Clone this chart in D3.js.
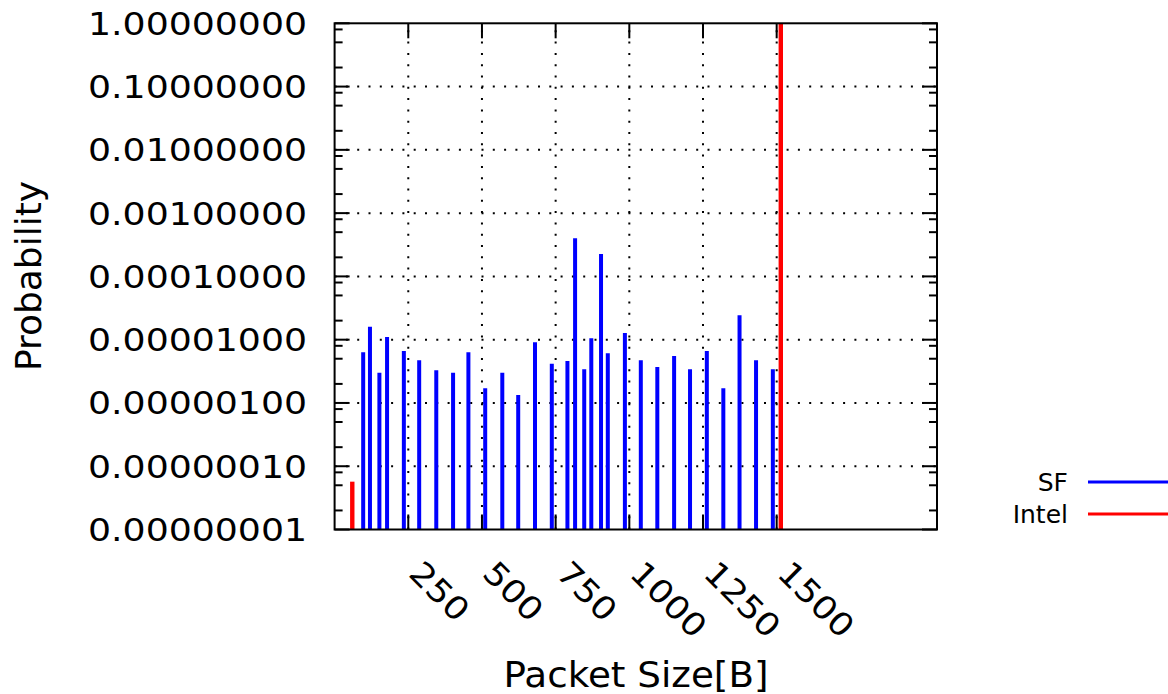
<!DOCTYPE html>
<html><head><meta charset="utf-8">
<script src="https://cdn.jsdelivr.net/npm/d3@7"></script>
<style>body{margin:0;background:#fff}svg{display:block}text{font-family:"DejaVu Sans",sans-serif;fill:#000}</style>
</head><body>
<svg id="c" width="1168" height="694"></svg>
<script>
// SF packet sizes (bytes) and probabilities
const sfSizes = [97,120,152,178,235,287,345,402,454,511,569,623,680,737,790,816,847,871,904,927,985,1039,1095,1152,1206,1263,1319,1374,1430,1487];
const sfProb  = [6.3e-6,1.6e-5,3.0e-6,1.1e-5,6.6e-6,4.75e-6,3.3e-6,3.0e-6,6.3e-6,1.7e-6,3.0e-6,1.34e-6,9.1e-6,4.15e-6,4.6e-6,4.0e-4,3.4e-6,1.05e-5,2.25e-4,6.1e-6,1.27e-5,4.75e-6,3.7e-6,5.5e-6,3.4e-6,6.6e-6,1.7e-6,2.44e-5,4.75e-6,3.4e-6];
// Intel packet sizes and probabilities
const intelSizes = [60,1514];
const intelProb  = [5.7e-8,0.9999999];
const xTicks = [250,500,750,1000,1250,1500];
const yTicks = [1,1e-1,1e-2,1e-3,1e-4,1e-5,1e-6,1e-7,1e-8];
const legendLabels = ["SF","Intel"];
const colors = ["#0000ff","#ff0000"];

const L=334.6, R=937, T=23.3, B=529.5;
const svg = d3.select("#c");
const x = d3.scaleLinear().domain([0,2044]).range([L,R]);
const y = d3.scaleLog().domain([1e-8,1]).range([B,T]);

// grid
const g = svg.append("g");
g.selectAll("line.gx").data(xTicks).join("line")
  .attr("x1",d=>x(d)).attr("x2",d=>x(d)).attr("y1",B).attr("y2",T)
  .attr("stroke","#000").attr("stroke-width",2).attr("stroke-dasharray","2,9.3");
g.selectAll("line.gy").data(yTicks.slice(1,-1)).join("line")
  .attr("x1",L).attr("x2",R).attr("y1",d=>y(d)).attr("y2",d=>y(d))
  .attr("stroke","#000").attr("stroke-width",2).attr("stroke-dasharray","2,9.3");

// impulses
const sf = sfSizes.map((s,i)=>({s,p:sfProb[i]}));
const intel = intelSizes.map((s,i)=>({s,p:intelProb[i]}));
svg.append("g").selectAll("line").data(sf).join("line")
  .attr("x1",d=>x(d.s)).attr("x2",d=>x(d.s)).attr("y1",B).attr("y2",d=>y(d.p))
  .attr("stroke",colors[0]).attr("stroke-width",4);
svg.append("g").selectAll("line").data(intel).join("line")
  .attr("x1",d=>x(d.s)).attr("x2",d=>x(d.s)).attr("y1",B).attr("y2",d=>y(d.p))
  .attr("stroke",colors[1]).attr("stroke-width",4.4);

// ticks (inward, mirrored)
const minor = [];
for (let e=-8;e<0;e++) for (const m of [2,5,8]) minor.push(m*Math.pow(10,e));
const tk = svg.append("g").attr("stroke","#000").attr("stroke-width",2);
yTicks.forEach(v=>{
  tk.append("line").attr("x1",L).attr("x2",L+15).attr("y1",y(v)).attr("y2",y(v));
  tk.append("line").attr("x1",R).attr("x2",R-15).attr("y1",y(v)).attr("y2",y(v));
});
minor.forEach(v=>{
  tk.append("line").attr("x1",L).attr("x2",L+8).attr("y1",y(v)).attr("y2",y(v));
  tk.append("line").attr("x1",R).attr("x2",R-8).attr("y1",y(v)).attr("y2",y(v));
});
xTicks.forEach(v=>{
  tk.append("line").attr("x1",x(v)).attr("x2",x(v)).attr("y1",B).attr("y2",B-15);
  tk.append("line").attr("x1",x(v)).attr("x2",x(v)).attr("y1",T).attr("y2",T+15);
});
svg.append("rect").attr("x",L).attr("y",T).attr("width",R-L).attr("height",B-T)
  .attr("fill","none").attr("stroke","#000").attr("stroke-width",2);

// y labels
const fmt = d3.format(".8f");
svg.append("g").selectAll("text").data(yTicks).join("text")
  .attr("x",88).attr("y",d=>y(d)+11.5).attr("font-size",32)
  .attr("textLength",219).attr("lengthAdjust","spacingAndGlyphs")
  .text(d=>fmt(d));
// x labels rotated
svg.append("g").selectAll("text").data(xTicks).join("text")
  .attr("transform",d=>`translate(${x(d)-1},575) rotate(45)`)
  .attr("font-size",32).attr("textLength",d=>String(d).length*23).attr("lengthAdjust","spacingAndGlyphs")
  .text(d=>d);

// axis titles
svg.append("text").attr("transform","translate(41,276) rotate(-90)").attr("text-anchor","middle")
  .attr("font-size",35).attr("textLength",190).attr("lengthAdjust","spacingAndGlyphs").text("Probability");
svg.append("text").attr("x",636).attr("y",687).attr("text-anchor","middle")
  .attr("font-size",35).attr("textLength",265).attr("lengthAdjust","spacingAndGlyphs").text("Packet Size[B]");

// legend
const ly = [482,514];
legendLabels.forEach((t,i)=>{
  svg.append("text").attr("x",1068).attr("y",ly[i]+9).attr("text-anchor","end").attr("font-size",25).text(t);
  svg.append("line").attr("x1",1088).attr("x2",1168).attr("y1",ly[i]).attr("y2",ly[i])
    .attr("stroke",colors[i]).attr("stroke-width",3);
});
</script>
</body></html>
